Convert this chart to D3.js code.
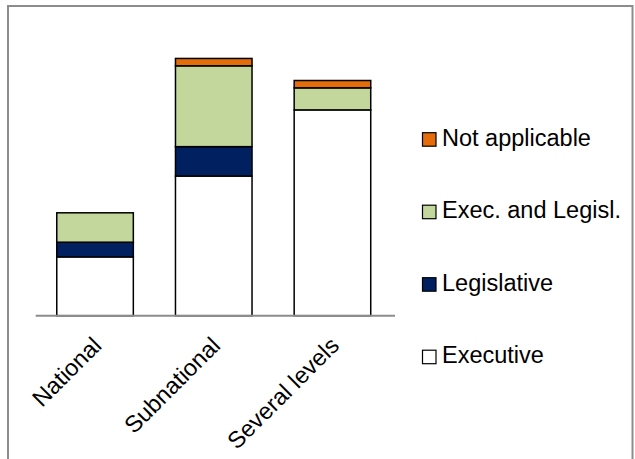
<!DOCTYPE html>
<html><head><meta charset="utf-8">
<script src="https://cdn.jsdelivr.net/npm/d3@7"></script>
<style>html,body{margin:0;padding:0;background:#fff;}svg{display:block;}</style>
</head><body>
<script>
const categories = ["National", "Subnational", "Several levels"];
const seriesNames = ["Executive", "Legislative", "Exec. and Legisl.", "Not applicable"];
const executive = [8, 19, 28];
const legislative = [2, 4, 0];
const execAndLegisl = [4, 11, 3];
const notApplicable = [0, 1, 1];
const colors = ["#FFFFFF", "#002060", "#C3D69B", "#E46C0A"];

const FONT = "'Liberation Sans', Arial, Helvetica, sans-serif";
const W = 635, H = 459;
const svg = d3.select("body").append("svg").attr("width", W).attr("height", H);

svg.append("rect").attr("x", 8).attr("y", 6).attr("width", 624.5).attr("height", 470)
  .attr("fill", "#fff").attr("stroke", "#8c8c8c").attr("stroke-width", 2);

const x = d3.scaleBand().domain(categories).range([35.7, 391.8]).paddingInner(0.355).paddingOuter(0.1775);
const y = d3.scaleLinear().domain([0, 40]).range([315.7, 21.7]);

const rows = categories.map((c, i) => ({cat: c, "Executive": executive[i], "Legislative": legislative[i], "Exec. and Legisl.": execAndLegisl[i], "Not applicable": notApplicable[i]}));
const stacked = d3.stack().keys(seriesNames)(rows);

const g = svg.append("g");
stacked.forEach((s, si) => {
  g.selectAll(null).data(s.filter(d => d[1] - d[0] > 0)).enter().append("rect")
    .attr("x", d => x(d.data.cat))
    .attr("y", d => y(d[1]))
    .attr("width", x.bandwidth())
    .attr("height", d => y(d[0]) - y(d[1]))
    .attr("fill", colors[si])
    .attr("stroke", "#000").attr("stroke-width", 1.5);
});

// axis line
const xAxis = d3.axisBottom(x).tickSize(0).tickFormat("");
const ax = svg.append("g").attr("transform", `translate(0,${y(0)})`).call(xAxis);
ax.select(".domain").attr("stroke", "#8c8c8c").attr("stroke-width", 2).attr("d", "M35.7,0H395");

// category labels
svg.selectAll(".cat").data(categories).enter().append("text")
  .attr("transform", d => `translate(${x(d) + x.bandwidth() / 2 + 8},347) rotate(-45)`)
  .attr("text-anchor", "end")
  .style("font-family", FONT)
  .style("font-size", "23.5px")
  .attr("fill", "#000")
  .text(d => d);

// legend
const legendOrder = ["Not applicable", "Exec. and Legisl.", "Legislative", "Executive"];
const lg = svg.append("g");
legendOrder.forEach((name, i) => {
  const by = 145.7 + i * 72.5;
  lg.append("rect").attr("x", 422.5).attr("y", by - 13).attr("width", 13.5).attr("height", 13.5)
    .attr("fill", colors[seriesNames.indexOf(name)]).attr("stroke", "#000").attr("stroke-width", 1.2);
  lg.append("text").attr("x", 442).attr("y", by)
    .style("font-family", FONT).style("font-size", "23.5px")
    .attr("fill", "#000").text(name);
});
</script>
</body></html>
